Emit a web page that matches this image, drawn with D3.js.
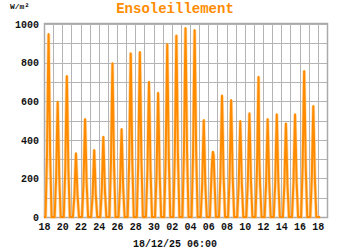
<!DOCTYPE html>
<html><head><meta charset="utf-8">
<script src="https://cdn.jsdelivr.net/npm/d3@7"></script>
<style>
body{margin:0;background:#fff;}
svg{display:block;}
</style></head><body>
<svg id="c" width="350" height="250"></svg>
<script>
// ---- data ----
const title = "Ensoleillement";
const unitLabel = "W/m²";
const stampLabel = "18/12/25 06:00";
const startDate = "2025-11-18";
const endDate = "2025-12-19";
const lastTime = "2025-12-18T06:00";
const hours = [4, 8, 10, 12, 14, 16, 20];
const days = ["2025-11-18","2025-11-19","2025-11-20","2025-11-21","2025-11-22","2025-11-23","2025-11-24","2025-11-25","2025-11-26","2025-11-27","2025-11-28","2025-11-29","2025-11-30","2025-12-01","2025-12-02","2025-12-03","2025-12-04","2025-12-05","2025-12-06","2025-12-07","2025-12-08","2025-12-09","2025-12-10","2025-12-11","2025-12-12","2025-12-13","2025-12-14","2025-12-15","2025-12-16","2025-12-17"];
const irradiance = [
  [0,330,660,948,660,330,0],
  [0,210,420,597,420,210,0],
  [0,255,510,730,510,255,0],
  [0,115,230,330,230,115,0],
  [0,180,355,508,355,180,0],
  [0,120,245,347,245,120,0],
  [0,145,290,416,290,145,0],
  [0,280,555,796,555,280,0],
  [0,160,320,456,320,160,0],
  [0,300,595,848,595,300,0],
  [0,300,600,855,600,300,0],
  [0,245,490,701,490,245,0],
  [0,225,450,644,450,225,0],
  [0,315,625,895,625,315,0],
  [0,330,660,941,660,330,0],
  [0,345,685,979,685,345,0],
  [0,340,680,969,680,340,0],
  [0,175,350,503,350,175,0],
  [0,200,290,338,320,200,0],
  [0,220,440,629,440,220,0],
  [0,210,425,606,425,210,0],
  [0,175,350,497,350,175,0],
  [0,190,375,537,375,190,0],
  [0,255,510,727,300,170,0],
  [0,180,355,508,355,180,0],
  [0,185,370,532,370,185,0],
  [0,170,340,485,340,170,0],
  [0,185,370,532,370,185,0],
  [0,265,530,756,530,265,0],
  [0,200,400,575,400,200,0]
];
const yTicks = [0, 200, 400, 600, 800, 1000];

// ---- build series ----
const parseDay = d3.utcParse("%Y-%m-%d");
const parseT = d3.utcParse("%Y-%m-%dT%H:%M");
const series = [{t: parseDay(startDate), v: 0}];
days.forEach((d, i) => {
  const base = parseDay(d);
  hours.forEach((h, j) => series.push({t: d3.utcHour.offset(base, h), v: irradiance[i][j]}));
});
series.push({t: parseT(lastTime), v: 0});

// ---- layout ----
const L = 44, R = 327, T = 24, B = 217;
const svg = d3.select("#c");
const x = d3.scaleUtc().domain([parseDay(startDate), parseDay(endDate)]).range([L, R]);
const y = d3.scaleLinear().domain([0, 1000]).range([B, T]);
const gridColor = "#b4b4b4";
const font = "'Liberation Mono', 'DejaVu Sans Mono', monospace";

// grid
const g = svg.append("g");
g.selectAll(".vg").data(d3.utcDay.range(parseDay(startDate), d3.utcDay.offset(parseDay(endDate), 1)))
  .join("line").attr("x1", d => Math.round(x(d)) + 0.5).attr("x2", d => Math.round(x(d)) + 0.5)
  .attr("y1", T).attr("y2", B).attr("stroke", gridColor).attr("stroke-width", 1);
g.selectAll(".hg").data(d3.range(0, 1001, 100))
  .join("line").attr("y1", d => Math.round(y(d)) + 0.5).attr("y2", d => Math.round(y(d)) + 0.5)
  .attr("x1", L).attr("x2", R).attr("stroke", gridColor).attr("stroke-width", 1);
svg.append("rect").attr("x", L + 0.5).attr("y", T - 0.5).attr("width", R - L).attr("height", B - T + 1)
  .attr("fill", "none").attr("stroke", "#aaa").attr("stroke-width", 1.5);

// line
const line = d3.line().x(d => x(d.t)).y(d => y(d.v));
svg.append("path").datum(series).attr("d", line).attr("fill", "none")
  .attr("stroke", "#ffc47a").attr("stroke-width", 3.5).attr("stroke-opacity", 0.6);
svg.append("path").datum(series).attr("d", line).attr("fill", "none")
  .attr("stroke", "#ff8c00").attr("stroke-width", 2).attr("stroke-linejoin", "round");

// y axis labels
const yAxis = d3.axisLeft(y).tickValues(yTicks).tickFormat(d3.format("d")).tickSize(0).tickPadding(5);
const ya = svg.append("g").attr("transform", `translate(${L},0)`).call(yAxis);
ya.select(".domain").remove();
ya.selectAll("text").attr("font-family", font).attr("font-size", 10).attr("font-weight", "bold").attr("fill", "#111");

// x axis labels
const xTickVals = d3.utcDay.range(parseDay(startDate), parseDay(endDate)).filter((d, i) => i % 2 === 0);
const xAxis = d3.axisBottom(x).tickValues(xTickVals).tickFormat(d3.utcFormat("%d")).tickSize(0).tickPadding(6);
const xa = svg.append("g").attr("transform", `translate(0,${B})`).call(xAxis);
xa.select(".domain").remove();
xa.selectAll("text").attr("font-family", font).attr("font-size", 10).attr("font-weight", "bold").attr("fill", "#111");

// texts
svg.append("text").attr("x", 175).attr("y", 13).attr("text-anchor", "middle")
  .attr("font-family", font).attr("font-size", 14).attr("font-weight", "bold").attr("fill", "#ff8c00").text(title);
svg.append("text").attr("x", 10).attr("y", 9)
  .attr("font-family", font).attr("font-size", 8).attr("font-weight", "bold").attr("fill", "#111").text(unitLabel);
svg.append("text").attr("x", 175).attr("y", 247).attr("text-anchor", "middle")
  .attr("font-family", font).attr("font-size", 10).attr("font-weight", "bold").attr("fill", "#111").text(stampLabel);
</script>
</body></html>
